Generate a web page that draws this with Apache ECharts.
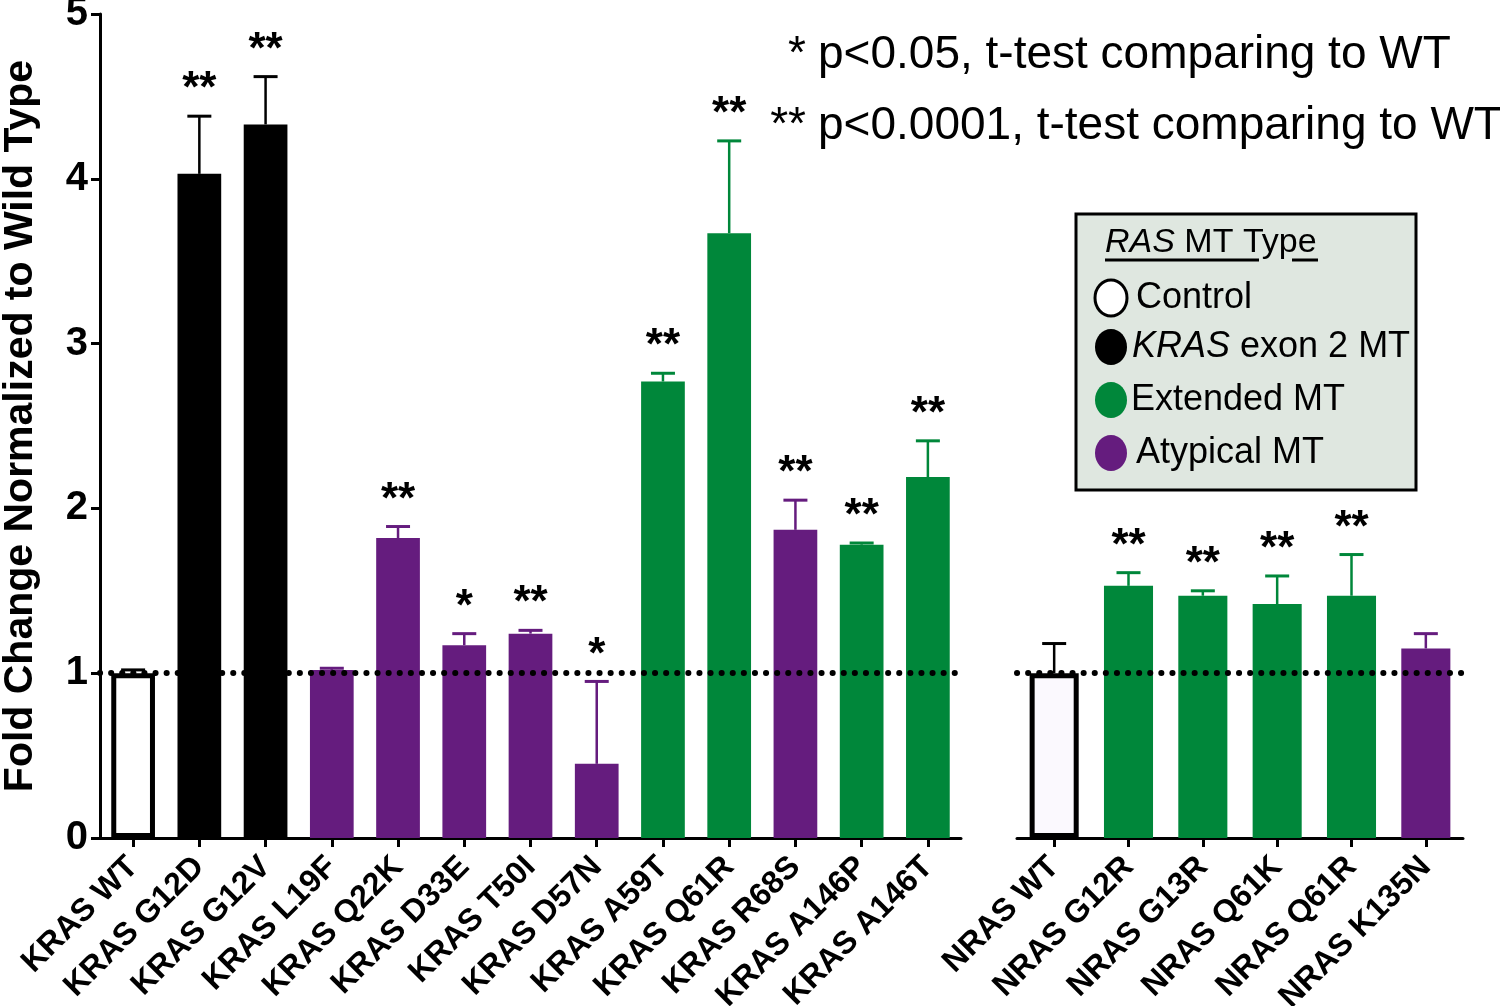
<!DOCTYPE html>
<html>
<head>
<meta charset="utf-8">
<script src="https://cdn.jsdelivr.net/npm/echarts@6/dist/echarts.min.js"></script>
<style>
html,body{margin:0;padding:0;background:#fff;}
#chart{width:1500px;height:1006px;}
</style>
</head>
<body>
<div id="chart"></div>
<script>
// ---- Data ----
const yTicks = [0, 1, 2, 3, 4, 5];
const krasCats = ['KRAS WT','KRAS G12D','KRAS G12V','KRAS L19F','KRAS Q22K','KRAS D33E','KRAS T50I','KRAS D57N','KRAS A59T','KRAS Q61R','KRAS R68S','KRAS A146P','KRAS A146T'];
const krasMean = [1.00, 4.03, 4.33, 1.02, 1.82, 1.17, 1.24, 0.45, 2.77, 3.67, 1.87, 1.78, 2.19];
const krasUpper = [1.02, 4.38, 4.62, 1.03, 1.89, 1.24, 1.26, 0.95, 2.82, 4.23, 2.05, 1.79, 2.41];
const krasType = ['control','exon2','exon2','atypical','atypical','atypical','atypical','atypical','extended','extended','atypical','extended','extended'];
const krasSig = ['', '**', '**', '', '**', '*', '**', '*', '**', '**', '**', '**', '**'];

const nrasCats = ['NRAS WT','NRAS G12R','NRAS G13R','NRAS Q61K','NRAS Q61R','NRAS K135N'];
const nrasMean = [1.00, 1.53, 1.47, 1.42, 1.47, 1.15];
const nrasUpper = [1.18, 1.61, 1.50, 1.59, 1.72, 1.24];
const nrasType = ['control','extended','extended','extended','extended','atypical'];
const nrasSig = ['', '**', '**', '**', '**', ''];

const referenceLevel = 1;
const legendTitle = 'MT Type';
const legendItems = [
  {type: 'control', label: 'Control'},
  {type: 'exon2', label: 'exon 2 MT', italicPrefix: 'KRAS'},
  {type: 'extended', label: 'Extended MT'},
  {type: 'atypical', label: 'Atypical MT'}
];
const noteLines = [
  {stars: '*', text: 'p<0.05, t-test comparing to WT'},
  {stars: '**', text: 'p<0.0001, t-test comparing to WT'}
];
const yTitle = 'Fold Change Normalized to Wild Type';

// ---- Styles ----
const FONT = '"Liberation Sans", Arial, Helvetica, sans-serif';
const typeColor = {control: '#ffffff', exon2: '#000000', extended: '#00873a', atypical: '#651c7e'};
const errColor = {control: '#000000', exon2: '#000000', extended: '#00873a', atypical: '#651c7e'};

function barData(means, types, controlFill) {
  return means.map((v, i) => {
    const t = types[i];
    if (t === 'control') {
      return {value: v, itemStyle: {color: controlFill, borderColor: '#000', borderWidth: 5}};
    }
    return {value: v, itemStyle: {color: typeColor[t]}};
  });
}

function errSeries(idx, means, uppers, types, sigs) {
  return {
    type: 'custom',
    xAxisIndex: idx, yAxisIndex: idx,
    z: 5,
    data: means.map((m, i) => [i, m, uppers[i]]),
    encode: {x: 0, y: [1, 2]},
    renderItem: function (params, api) {
      const i = params.dataIndex;
      const x = api.value(0), m = api.value(1), u = api.value(2);
      const p0 = api.coord([x, m]);
      const p1 = api.coord([x, u]);
      const c = errColor[types[i]];
      const children = [
        {type: 'line', shape: {x1: p0[0], y1: p0[1], x2: p1[0], y2: p1[1]}, style: {stroke: c, lineWidth: 2.5}},
        {type: 'line', shape: {x1: p1[0] - 12, y1: p1[1], x2: p1[0] + 12, y2: p1[1]}, style: {stroke: c, lineWidth: 3}}
      ];
      if (sigs[i]) {
        children.push({type: 'text', x: p1[0], y: p1[1] - 26, style: {
          text: sigs[i], fill: '#000', font: 'bold 44px ' + FONT, textAlign: 'center', textVerticalAlign: 'middle'}});
      }
      return {type: 'group', children: children};
    }
  };
}

function refLine(idx) {
  return {
    type: 'line', xAxisIndex: idx, yAxisIndex: idx, data: [], z: 1, silent: true,
    markLine: {
      silent: true, symbol: ['none', 'none'], label: {show: false},
      lineStyle: {color: '#000', width: 6, type: [0.1, 11], cap: 'round'},
      data: [{yAxis: referenceLevel}]
    }
  };
}

const xAxisCommon = {
  type: 'category',
  axisLine: {lineStyle: {color: '#000', width: 3}},
  axisTick: {show: true, alignWithLabel: true, length: 9, lineStyle: {color: '#000', width: 3}},
  axisLabel: {rotate: 45, margin: 24, color: '#000', fontFamily: FONT, fontWeight: 'bold', fontSize: 32, interval: 0}
};

const option = {
  animation: false,
  backgroundColor: '#ffffff',
  grid: [
    {left: 100, top: 14, width: 861, height: 824, containLabel: false, outerBoundsMode: 'none'},
    {left: 1017, top: 14, width: 446, height: 824, containLabel: false, outerBoundsMode: 'none'}
  ],
  xAxis: [
    Object.assign({gridIndex: 0, data: krasCats}, xAxisCommon),
    Object.assign({gridIndex: 1, data: nrasCats}, xAxisCommon)
  ],
  yAxis: [
    {gridIndex: 0, type: 'value', min: yTicks[0], max: yTicks[yTicks.length - 1], interval: 1,
     name: yTitle, nameLocation: 'middle', nameRotate: 90, nameGap: 59,
     nameTextStyle: {color: '#000', fontFamily: FONT, fontWeight: 'bold', fontSize: 41},
     axisLine: {show: true, lineStyle: {color: '#000', width: 3}},
     axisTick: {show: true, length: 9, lineStyle: {color: '#000', width: 3}},
     axisLabel: {margin: 12, color: '#000', fontFamily: FONT, fontWeight: 'bold', fontSize: 40},
     splitLine: {show: false}},
    {gridIndex: 1, type: 'value', min: yTicks[0], max: yTicks[yTicks.length - 1], interval: 1,
     axisLine: {show: false}, axisTick: {show: false}, axisLabel: {show: false}, splitLine: {show: false}}
  ],
  series: [
    refLine(0),
    refLine(1),
    {type: 'bar', xAxisIndex: 0, yAxisIndex: 0, barWidth: '66%', z: 2, data: barData(krasMean, krasType, '#ffffff')},
    {type: 'bar', xAxisIndex: 1, yAxisIndex: 1, barWidth: '66%', z: 2, data: barData(nrasMean, nrasType, '#fbf9fe')},
    errSeries(0, krasMean, krasUpper, krasType, krasSig),
    errSeries(1, nrasMean, nrasUpper, nrasType, nrasSig)
  ],
  graphic: []
};

// notes (top right)
noteLines.forEach((n, k) => {
  const y = 55 + k * 71;
  option.graphic.push({type: 'text', x: 806, y: y, style: {text: n.stars, fill: '#000', font: '46px ' + FONT, textAlign: 'right', textVerticalAlign: 'middle'}});
  option.graphic.push({type: 'text', x: 818, y: y, style: {text: n.text, fill: '#000', font: '46px ' + FONT, textAlign: 'left', textVerticalAlign: 'middle'}});
});

// legend box
const lg = {x: 1076, y: 214, w: 340, h: 276};
option.graphic.push({type: 'rect', shape: {x: lg.x, y: lg.y, width: lg.w, height: lg.h}, style: {fill: '#dfe7e0', stroke: '#000', lineWidth: 3}, z: 10});
option.graphic.push({type: 'text', x: 1105, y: 243, z: 11, style: {
  text: '{i|RAS} ' + legendTitle, textVerticalAlign: 'middle', fill: '#000',
  font: '34px ' + FONT,
  rich: {i: {fontStyle: 'italic', fontSize: 34, fontFamily: FONT}}
}});
option.graphic.push({type: 'line', z: 11, shape: {x1: 1105, y1: 260, x2: 1259, y2: 260}, style: {stroke: '#000', lineWidth: 3}});
option.graphic.push({type: 'line', z: 11, shape: {x1: 1292, y1: 260, x2: 1318, y2: 260}, style: {stroke: '#000', lineWidth: 3}});
const itemYs = [298, 347, 400, 453];
legendItems.forEach((it, k) => {
  const cy = itemYs[k];
  option.graphic.push({type: 'ellipse', z: 11, shape: {cx: 1111, cy: cy, rx: 16, ry: 18},
    style: {fill: typeColor[it.type], stroke: it.type === 'control' ? '#000' : null, lineWidth: 3}});
  const txt = it.italicPrefix ? '{i|' + it.italicPrefix + '} ' + it.label : it.label;
  option.graphic.push({type: 'text', z: 11, x: it.italicPrefix ? 1132 : (it.type === 'extended' ? 1131 : 1136), y: cy, style: {
    text: txt, fill: '#000', font: '36px ' + FONT, textVerticalAlign: 'middle',
    rich: {i: {fontStyle: 'italic', fontSize: 36, fontFamily: FONT}}
  }});
});

const chart = echarts.init(document.getElementById('chart'), null, {renderer: 'canvas'});
chart.setOption(option);
</script>
</body>
</html>
